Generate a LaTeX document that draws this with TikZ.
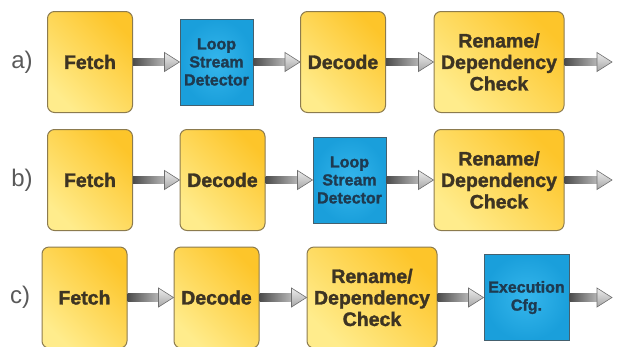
\documentclass[tikz,border=0pt]{standalone}
\usepackage{fontspec}
\setsansfont{Liberation Sans}[BoldFeatures={FakeBold=1.6}]
\usepackage{tikz}
\usetikzlibrary{arrows.meta}
\definecolor{stagetop}{HTML}{FDC52A}
\definecolor{stagebot}{HTML}{FFEC8C}
\definecolor{stageline}{HTML}{8C7B4E}
\definecolor{stagetext}{HTML}{3D3423}
\definecolor{lsdin}{HTML}{35B6EC}
\definecolor{lsdout}{HTML}{1A9FDB}
\definecolor{lsdline}{HTML}{44606E}
\definecolor{lsdtext}{HTML}{1E3A50}
\definecolor{pipedark}{HTML}{4C4C4C}
\definecolor{pipelight}{HTML}{B8B8B8}
\definecolor{pipeline}{HTML}{6E6E6E}
\tikzset{
    stage/.style={rectangle, rounded corners=7pt, draw=stageline, line width=1pt, top color=stagetop, bottom color=stagebot, shading angle=-45, minimum width=85pt, minimum height=101pt, inner sep=0pt, font=\sffamily\bfseries\fontsize{19.5}{21.5}\selectfont, text=stagetext, align=center},
    widestage/.style={stage, minimum width=130pt},
    lsd/.style={rectangle, draw=lsdline, line width=1pt, inner color=lsdin, outer color=lsdout, minimum width=73pt, minimum height=86pt, inner sep=0pt, font=\sffamily\bfseries\fontsize{16}{18}\selectfont, text=lsdtext, align=center},
    rowlabel/.style={font=\sffamily\fontsize{24}{24}\selectfont, text=black!65},
    shaft/.style={left color=pipedark, right color=pipelight},
    head/.style={draw=pipeline, line width=0.6pt, top color=white!85!gray, bottom color=gray!70, line join=miter},
}
% shaded pipe from one stage to the next
\newcommand{\flow}[2]{%
    \shade[shaft] ([yshift=3.8pt]#1.east) rectangle ([xshift=-14pt, yshift=-3.8pt]#2.west);
    \draw[head] ([xshift=-15pt, yshift=9.5pt]#2.west) -- (#2.west) -- ([xshift=-15pt, yshift=-9.5pt]#2.west) -- cycle;
}
\begin{document}
\begin{tikzpicture}[x=1pt, y=-1pt]
\clip (0,0) rectangle (617,346);

% Row a
\node[rowlabel] (labA) at (22,62) {a)};
\node[stage] (fetchA) at (90,62) {Fetch};
\node[lsd] (lsdA) at (216.5,62) {Loop\\Stream\\Detector};
\node[stage] (decA) at (343,62) {Decode};
\node[widestage] (renA) at (499,62) {Rename/\\Dependency\\Check};
\coordinate (outA) at (612,62);

% Row b
\node[rowlabel] (labB) at (22,180) {b)};
\node[stage] (fetchB) at (90,180) {Fetch};
\node[stage] (decB) at (222.5,180) {Decode};
\node[lsd] (lsdB) at (349.5,180) {Loop\\Stream\\Detector};
\node[widestage] (renB) at (499,180) {Rename/\\Dependency\\Check};
\coordinate (outB) at (612,180);

% Row c
\node[rowlabel] (labC) at (20,297) {c)};
\node[stage] (fetchC) at (84.5,297.5) {Fetch};
\node[stage] (decC) at (216.5,297.5) {Decode};
\node[widestage] (renC) at (372,297.5) {Rename/\\Dependency\\Check};
\node[lsd, minimum width=85pt] (execC) at (526.5,297.5) {Execution\\Cfg.};
\coordinate (outC) at (612,297.5);

% pipeline arrows
\flow{fetchA}{lsdA}
\flow{lsdA}{decA}
\flow{decA}{renA}
\flow{renA}{outA}

\flow{fetchB}{decB}
\flow{decB}{lsdB}
\flow{lsdB}{renB}
\flow{renB}{outB}

\flow{fetchC}{decC}
\flow{decC}{renC}
\flow{renC}{execC}
\flow{execC}{outC}

\end{tikzpicture}
\end{document}
